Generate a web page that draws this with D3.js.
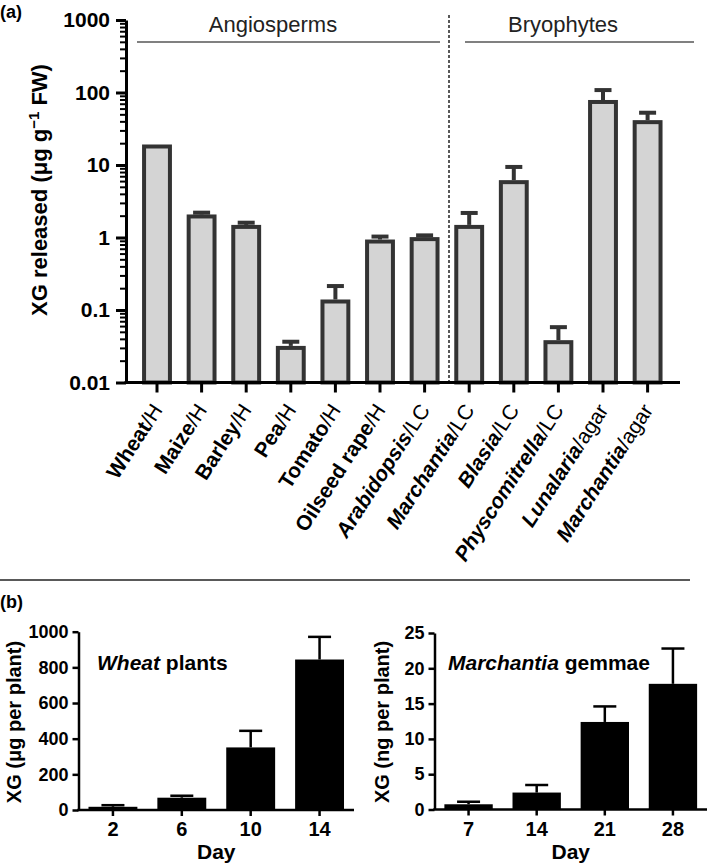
<!DOCTYPE html>
<html><head><meta charset="utf-8">
<script src="https://cdn.jsdelivr.net/npm/d3@7"></script>
<style>
body{margin:0;background:#fff;}
text{font-family:"Liberation Sans",Arial,Helvetica,sans-serif;}
</style></head>
<body>
<svg id="c" width="709" height="868"></svg>
<script>
// ---------- Panel (a) data ----------
const speciesA = ["Wheat","Maize","Barley","Pea","Tomato","Oilseed rape","Arabidopsis","Marchantia","Blasia","Physcomitrella","Lunalaria","Marchantia"];
const mediumA  = ["H","H","H","H","H","H","LC","LC","LC","LC","agar","agar"];
const italicA  = [false,false,false,false,false,false,true,true,true,true,true,true];
const valuesA  = [18,1.95,1.4,0.030,0.131,0.88,0.95,1.4,5.8,0.036,74,39];
const errorsA  = [0,0.25,0.2,0.0065,0.083,0.15,0.12,0.78,3.6,0.022,34,13.6];
const yTicksA  = [0.01,0.1,1,10,100,1000];
const groupsA  = ["Angiosperms","Bryophytes"];

// ---------- Panel (b) data ----------
const daysW   = ["2","6","10","14"];
const wheatV  = [18,69,351,844];
const wheatE  = [9,11,93,127];
const yTicksW = [0,200,400,600,800,1000];
const daysM   = ["7","14","21","28"];
const marchV  = [0.74,2.4,12.4,17.8];
const marchE  = [0.36,1.07,2.2,5.0];
const yTicksM = [0,5,10,15,20,25];

const svg = d3.select("#c");
const FONT = '"Liberation Sans",Arial,Helvetica,sans-serif';

// ================= Panel (a) =================
svg.append("text").attr("x",0).attr("y",18).attr("font-size",18).attr("font-weight","bold").text("(a)");

const yA = d3.scaleLog().domain([0.01,1000]).range([382.5,20]);
const xA = d3.scaleBand().domain(d3.range(12)).range([134.7,669.9]).paddingInner(0.42).paddingOuter(0.21);
const bw = xA.bandwidth();

// bars
svg.append("g").selectAll("rect").data(valuesA).join("rect")
  .attr("x",(d,i)=>xA(i)).attr("width",bw)
  .attr("y",d=>yA(d)).attr("height",d=>yA(0.01)-yA(d))
  .attr("fill","#d4d4d4").attr("stroke","#333").attr("stroke-width",4);

// error bars
const eg = svg.append("g").attr("stroke","#333").attr("stroke-width",4);
valuesA.forEach((v,i)=>{
  const e = errorsA[i]; if(!e) return;
  const cx = xA(i)+bw/2;
  eg.append("line").attr("x1",cx).attr("x2",cx).attr("y1",yA(v)-2).attr("y2",yA(v+e));
  eg.append("line").attr("x1",cx-8.5).attr("x2",cx+8.5).attr("y1",yA(v+e)).attr("y2",yA(v+e));
});

// y axis (major + minor)
const minor = [];
for(let p=-2;p<3;p++) for(let m=2;m<10;m++) minor.push(m*Math.pow(10,p));
const gMin = svg.append("g").attr("transform","translate(126,0)")
  .call(d3.axisLeft(yA).tickValues(minor).tickSize(6).tickFormat(""));
gMin.select(".domain").remove();
gMin.selectAll("line").attr("stroke","#000").attr("stroke-width",2);
const gY = svg.append("g").attr("transform","translate(126,0)")
  .call(d3.axisLeft(yA).tickValues(yTicksA).tickSize(10).tickSizeOuter(0).tickPadding(6)
        .tickFormat(d=>String(d)));
gY.select(".domain").attr("stroke","#000").attr("stroke-width",3);
gY.selectAll("line").attr("stroke","#000").attr("stroke-width",3);
gY.selectAll("text").attr("font-size",21).attr("font-weight","bold").attr("font-family",FONT).attr("fill","#000");

// x axis
const gX = svg.append("g").attr("transform","translate(0,382.5)")
  .call(d3.axisBottom(xA).tickSize(10).tickFormat(""));
gX.select(".domain").remove();
gX.selectAll("line").attr("stroke","#000").attr("stroke-width",3);
svg.append("line").attr("x1",124.5).attr("x2",680).attr("y1",382.5).attr("y2",382.5)
  .attr("stroke","#000").attr("stroke-width",3);

// x labels
speciesA.forEach((s,i)=>{
  const cx = xA(i)+bw/2;
  const t = svg.append("text").attr("transform",`translate(${cx},406) rotate(-57)`)
    .attr("text-anchor","end").attr("dy","0.35em").attr("font-size",21);
  t.append("tspan").attr("font-weight","bold").attr("font-style",italicA[i]?"italic":"normal").text(s);
  t.append("tspan").attr("font-weight","normal").text("/"+mediumA[i]);
});

// y label
const yl = svg.append("text").attr("transform","translate(47,190) rotate(-90)")
  .attr("text-anchor","middle").attr("font-size",22).attr("font-weight","bold");
yl.append("tspan").text("XG released (μg g");
yl.append("tspan").attr("font-size",15).attr("dy",-8).text("−1");
yl.append("tspan").attr("dy",8).text(" FW)");

// group labels and lines
const grp = [{x1:137,x2:440,cx:273},{x1:465,x2:694,cx:563}];
groupsA.forEach((g,i)=>{
  svg.append("line").attr("x1",grp[i].x1).attr("x2",grp[i].x2).attr("y1",42).attr("y2",42)
    .attr("stroke","#808080").attr("stroke-width",2);
  svg.append("text").attr("x",grp[i].cx).attr("y",32).attr("text-anchor","middle")
    .attr("font-size",22).attr("fill","#222").text(g);
});
svg.append("line").attr("x1",449).attr("x2",449).attr("y1",15).attr("y2",381)
  .attr("stroke","#222").attr("stroke-width",1.5).attr("stroke-dasharray","3,2");

// separator
svg.append("line").attr("x1",0).attr("x2",690).attr("y1",580).attr("y2",580)
  .attr("stroke","#222").attr("stroke-width",1.5);

// ================= Panel (b) =================
svg.append("text").attr("x",0).attr("y",608).attr("font-size",18).attr("font-weight","bold").text("(b)");

function barPanel(opts){
  const {cats,vals,errs,ticks,domainMax,x0,x1,yTop,yBot,ylab,titleItalic,titleRest,titleX,labX} = opts;
  const y = d3.scaleLinear().domain([0,domainMax]).range([yBot,yTop]);
  const x = d3.scaleBand().domain(cats).range([x0,x1]).paddingInner(0.29).paddingOuter(0.145);
  const b = x.bandwidth();
  svg.append("g").selectAll("rect").data(vals).join("rect")
    .attr("x",(d,i)=>x(cats[i])).attr("width",b)
    .attr("y",d=>y(d)).attr("height",d=>y(0)-y(d)).attr("fill","#000");
  const g = svg.append("g").attr("stroke","#000").attr("stroke-width",2.5);
  vals.forEach((v,i)=>{
    const cx = x(cats[i])+b/2, top = y(v+errs[i]);
    g.append("line").attr("x1",cx).attr("x2",cx).attr("y1",y(v)).attr("y2",top);
    g.append("line").attr("x1",cx-11.5).attr("x2",cx+11.5).attr("y1",top).attr("y2",top);
  });
  const gy = svg.append("g").attr("transform",`translate(${x0},0)`)
    .call(d3.axisLeft(y).tickValues(ticks).tickSize(6).tickSizeOuter(0).tickPadding(4).tickFormat(d3.format("d")));
  gy.select(".domain").attr("stroke","#000").attr("stroke-width",2.5);
  gy.selectAll("line").attr("stroke","#000").attr("stroke-width",2.5);
  gy.selectAll("text").attr("font-size",18).attr("font-weight","bold").attr("font-family",FONT).attr("fill","#000");
  const gx = svg.append("g").attr("transform",`translate(0,${yBot})`)
    .call(d3.axisBottom(x).tickSize(6).tickSizeOuter(0).tickPadding(6));
  gx.select(".domain").remove();
  svg.append("line").attr("x1",x0-1.25).attr("x2",x1).attr("y1",yBot).attr("y2",yBot)
    .attr("stroke","#000").attr("stroke-width",2.5);
  gx.selectAll("line").attr("stroke","#000").attr("stroke-width",2.5);
  gx.selectAll("text").attr("font-size",20).attr("font-weight","bold").attr("font-family",FONT).attr("fill","#000")
    .attr("dy","0.71em");
  svg.append("text").attr("x",(x0+x1)/2).attr("y",859).attr("text-anchor","middle")
    .attr("font-size",21).attr("font-weight","bold").text("Day");
  svg.append("text").attr("transform",`translate(${labX},722) rotate(-90)`).attr("text-anchor","middle")
    .attr("font-size",20).attr("font-weight","bold").text(ylab);
  const tt = svg.append("text").attr("x",titleX).attr("y",669.5).attr("font-size",21).attr("font-weight","bold");
  tt.append("tspan").attr("font-style","italic").text(titleItalic);
  tt.append("tspan").text(titleRest);
}
barPanel({cats:daysW,vals:wheatV,errs:wheatE,ticks:yTicksW,domainMax:1000,x0:78.5,x1:354,yTop:631.7,yBot:810,
  ylab:"XG (μg per plant)",titleItalic:"Wheat",titleRest:" plants",titleX:97,labX:21});
barPanel({cats:daysM,vals:marchV,errs:marchE,ticks:yTicksM,domainMax:25,x0:434.5,x1:707,yTop:633,yBot:809.5,
  ylab:"XG (ng per plant)",titleItalic:"Marchantia",titleRest:" gemmae",titleX:448,labX:389});
</script>
</body></html>
